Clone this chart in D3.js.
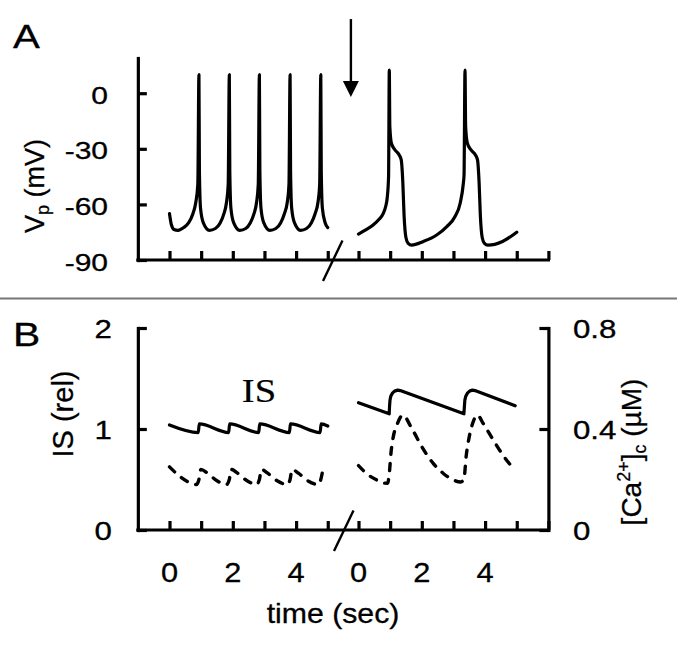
<!DOCTYPE html>
<html>
<head>
<meta charset="utf-8">
<script src="https://cdn.jsdelivr.net/npm/d3@7"></script>
<style>
  body { margin: 0; background: #fff; }
  svg { display: block; }
  text { stroke: #000; stroke-width: 0.3px; }
</style>
</head>
<body>
<svg></svg>
<script>
// ---- data (time in sec, Vp in mV, IS relative, Ca in uM) ----
// left segment (before the arrow), right segment (after)
const vLeft = [
  [0, -65], [0.06, -71], [0.14, -73.5], [0.27, -74], [0.45, -72.5], [0.6, -70], [0.74, -65], [0.83, -59], [0.895, -49], [0.93, 10],
  [0.945, -42], [0.98, -62], [1.07, -70], [1.26, -74], [1.45, -73], [1.6, -70], [1.72, -65], [1.8, -59], [1.855, -49], [1.89, 10],
  [1.905, -42], [1.94, -62], [2.03, -70], [2.22, -74], [2.41, -73], [2.55, -70], [2.67, -65], [2.75, -59], [2.805, -49], [2.84, 10],
  [2.855, -42], [2.89, -62], [2.98, -70], [3.17, -74], [3.36, -73], [3.51, -70], [3.63, -65], [3.72, -59], [3.775, -49], [3.81, 10],
  [3.825, -42], [3.86, -62], [3.95, -70], [4.14, -74], [4.33, -73], [4.48, -70], [4.6, -65], [4.69, -59], [4.745, -49], [4.78, 10],
  [4.795, -42], [4.83, -62], [4.92, -70], [5.0, -72.5]
];
const vRight = [
  [0, -76], [0.2, -74], [0.47, -71], [0.65, -68], [0.78, -65], [0.86, -61], [0.91, -56], [0.95, -45], [0.973, 12.5],
  [0.99, -18], [1.04, -27], [1.15, -30.5], [1.29, -33.5], [1.35, -36], [1.4, -48], [1.44, -66], [1.5, -78], [1.57, -81], [1.68, -82],
  [2.05, -80], [2.47, -76.5], [2.79, -72], [3.05, -66.5], [3.21, -59.5], [3.31, -49], [3.335, -44], [3.365, 12.5],
  [3.385, -18], [3.44, -27], [3.55, -30.5], [3.7, -33.5], [3.76, -36], [3.81, -48], [3.85, -66], [3.91, -78], [3.98, -81], [4.09, -82],
  [4.55, -80], [5.0, -75]
];
const isLeft = [
  [0, 1.04], [0.91, 0.965], [0.94, 1.05], [1.87, 0.965], [1.9, 1.05], [2.82, 0.965], [2.85, 1.05],
  [3.79, 0.965], [3.82, 1.05], [4.76, 0.965], [4.79, 1.05], [5.0, 1.03]
];
const isRight = [
  [0, 1.26], [0.97, 1.15], [0.98, 1.22], [0.995, 1.285], [1.02, 1.325], [1.07, 1.355], [1.14, 1.375], [1.24, 1.385], [1.32, 1.38],
  [3.33, 1.15], [3.345, 1.22], [3.36, 1.285], [3.39, 1.325], [3.44, 1.355], [3.51, 1.375], [3.6, 1.385], [3.68, 1.38],
  [4.95, 1.23]
];
const caLeft = [
  [0, 0.25], [0.3, 0.215], [0.6, 0.19], [0.85, 0.18], [0.93, 0.2], [0.99, 0.24],
  [1.2, 0.225], [1.5, 0.195], [1.8, 0.18], [1.89, 0.2], [1.95, 0.24],
  [2.15, 0.225], [2.45, 0.195], [2.75, 0.18], [2.84, 0.2], [2.9, 0.24],
  [3.1, 0.225], [3.4, 0.195], [3.72, 0.18], [3.81, 0.2], [3.87, 0.24],
  [4.07, 0.225], [4.37, 0.195], [4.69, 0.18], [4.78, 0.2], [4.86, 0.25]
];
const caRight = [
  [0, 0.255], [0.31, 0.218], [0.575, 0.198], [0.78, 0.186], [0.92, 0.185], [0.97, 0.22], [1.03, 0.31], [1.1, 0.37],
  [1.21, 0.415], [1.4, 0.455], [1.68, 0.403], [2.0, 0.33], [2.36, 0.264], [2.68, 0.224], [3.0, 0.198], [3.22, 0.19],
  [3.33, 0.2], [3.4, 0.29], [3.5, 0.37], [3.6, 0.42], [3.76, 0.455], [3.94, 0.422], [4.26, 0.356], [4.6, 0.29], [4.89, 0.244]
];

const vTicks = [0, -30, -60, -90];
const isTicks = [0, 1, 2];
const caTicks = [0, 0.4, 0.8];
const timeTicksLeft = [0, 1, 2, 3, 4, 5];
const timeTicksRight = [0, 1, 2, 3, 4, 5, 6];
const timeLabels = [0, 2, 4];
const arrowAt = { t: -0.24, from: 40, to: -2 };

// ---- layout ----
const width = 677, height = 649;
const sans = '"Liberation Sans", Arial, sans-serif';
const serif = '"Liberation Serif", "Times New Roman", serif';
const lw = 3.2;

const svg = d3.select('svg').attr('width', width).attr('height', height);
svg.append('rect').attr('width', width).attr('height', height).attr('fill', '#fff');

// scales
const xL = d3.scaleLinear().domain([0, 5]).range([169.5, 327.75]);
const xR = d3.scaleLinear().domain([0, 6]).range([358.5, 548.4]);
const yA = d3.scaleLinear().domain([-90, 19]).range([260, 58]);
const yIS = d3.scaleLinear().domain([0, 2]).range([530, 328]);
const yCa = d3.scaleLinear().domain([0, 0.8]).range([530, 328]);
const axisLeftX = xL(-1);

function label(g, txt, x, y, size, anchor, sx, family) {
  return g.append('text')
    .attr('transform', `translate(${x},${y}) scale(${sx},1)`)
    .attr('text-anchor', anchor)
    .attr('font-size', size)
    .attr('font-family', family || sans)
    .attr('fill', '#000')
    .text(txt);
}

function styleAxis(sel) {
  sel.selectAll('path, line').attr('stroke', '#000').attr('stroke-width', lw);
  sel.select('.domain').attr('stroke-linecap', 'square');
}

// time axis with a gap: one line, two sets of ticks
function timeAxis(g, y) {
  g.append('line')
    .attr('x1', axisLeftX).attr('x2', xR(6))
    .attr('y1', y).attr('y2', y)
    .attr('stroke', '#000').attr('stroke-width', lw).attr('stroke-linecap', 'square');
  [[xL, timeTicksLeft], [xR, timeTicksRight]].forEach(([s, tv]) => {
    const a = g.append('g').attr('transform', `translate(0,${y})`)
      .call(d3.axisBottom(s).tickValues(tv).tickSizeInner(-9).tickSizeOuter(0).tickFormat(''));
    a.select('.domain').remove();
    styleAxis(a);
  });
}

function breakMark(g, cx, cy) {
  g.append('line')
    .attr('x1', cx + 9.5).attr('y1', cy - 19.5)
    .attr('x2', cx - 10).attr('y2', cy + 21)
    .attr('stroke', '#000').attr('stroke-width', 2.4);
}

// ---- panel A ----
const gA = svg.append('g');
label(gA, 'A', 13, 48, 33, 'start', 1.22);

const axA = gA.append('g').attr('transform', `translate(${axisLeftX},0)`)
  .call(d3.axisLeft(yA).tickValues(vTicks).tickSizeInner(-9).tickSizeOuter(0).tickFormat(''));
styleAxis(axA);
vTicks.forEach(v => label(gA, String(v), 108, yA(v) + 10.5, 24, 'end', 1.25));
timeAxis(gA, yA(-90));
breakMark(gA, 333, yA(-90));

const vpLab = gA.append('text')
  .attr('transform', 'translate(44,186) rotate(-90)')
  .attr('text-anchor', 'middle').attr('font-family', sans).attr('font-size', 27);
vpLab.append('tspan').text('V');
vpLab.append('tspan').attr('font-size', 18).attr('dy', 5).text('p');
vpLab.append('tspan').attr('dy', -5).text(' (mV)');

const lineVL = d3.line().x(d => xL(d[0])).y(d => yA(d[1])).curve(d3.curveMonotoneX);
const lineVR = d3.line().x(d => xR(d[0])).y(d => yA(d[1])).curve(d3.curveMonotoneX);
[[vLeft, lineVL], [vRight, lineVR]].forEach(([data, ln]) => {
  gA.append('path').datum(data).attr('d', ln)
    .attr('fill', 'none').attr('stroke', '#000').attr('stroke-width', lw)
    .attr('stroke-linejoin', 'round').attr('stroke-linecap', 'round');
});

// arrow marking the switch
const ax = xR(arrowAt.t);
gA.append('line').attr('x1', ax).attr('x2', ax)
  .attr('y1', yA(arrowAt.from)).attr('y2', yA(arrowAt.to) - 12)
  .attr('stroke', '#000').attr('stroke-width', 2.4);
gA.append('path')
  .attr('d', `M${ax - 8},${yA(arrowAt.to) - 16} L${ax + 8},${yA(arrowAt.to) - 16} L${ax},${yA(arrowAt.to)} Z`)
  .attr('fill', '#000');

// separator
svg.append('line').attr('x1', 0).attr('x2', width).attr('y1', 298.5).attr('y2', 298.5)
  .attr('stroke', '#777').attr('stroke-width', 2);

// ---- panel B ----
const gB = svg.append('g');
label(gB, 'B', 13, 346, 34, 'start', 1.2);

const axBL = gB.append('g').attr('transform', `translate(${axisLeftX},0)`)
  .call(d3.axisLeft(yIS).tickValues(isTicks).tickSizeInner(-9).tickSizeOuter(0).tickFormat(''));
styleAxis(axBL);
const axBR = gB.append('g').attr('transform', `translate(${xR(6)},0)`)
  .call(d3.axisRight(yCa).tickValues(caTicks).tickSizeInner(-9).tickSizeOuter(0).tickFormat(''));
styleAxis(axBR);
timeAxis(gB, yIS(0));
breakMark(gB, 344, yIS(0));

isTicks.forEach(v => label(gB, String(v), 112, yIS(v) + 10, 25, 'end', 1.25));
caTicks.forEach(v => label(gB, String(v), 573, yCa(v) + 10, 25, 'start', 1.25));
timeLabels.forEach(v => {
  label(gB, String(v), xL(v), 582, 28, 'middle', 1.1);
  label(gB, String(v), xR(v), 582, 28, 'middle', 1.1);
});
label(gB, 'time (sec)', 333, 623, 28, 'middle', 1.08);
label(gB, 'IS', 259, 402, 33, 'middle', 1.17, serif).style('stroke-width', '0.2px');

gB.append('text')
  .attr('transform', 'translate(73,414) rotate(-90)')
  .attr('text-anchor', 'middle').attr('font-family', sans).attr('font-size', 29)
  .text('IS (rel)');

const caLab = gB.append('text')
  .attr('transform', 'translate(641,452) rotate(-90)')
  .attr('text-anchor', 'middle').attr('font-family', sans).attr('font-size', 28);
caLab.append('tspan').text('[Ca');
caLab.append('tspan').attr('font-size', 18).attr('dy', -11).text('2+');
caLab.append('tspan').attr('dy', 11).text(']');
caLab.append('tspan').attr('font-size', 18).attr('dy', 5).text('c');
caLab.append('tspan').attr('dy', -5).text(' (µM)');

const lineISL = d3.line().x(d => xL(d[0])).y(d => yIS(d[1])).curve(d3.curveMonotoneX);
const lineISR = d3.line().x(d => xR(d[0])).y(d => yIS(d[1])).curve(d3.curveLinear);
const lineCaL = d3.line().x(d => xL(d[0])).y(d => yCa(d[1])).curve(d3.curveMonotoneX);
const lineCaR = d3.line().x(d => xR(d[0])).y(d => yCa(d[1])).curve(d3.curveMonotoneX);

[[isLeft, lineISL], [isRight, lineISR]].forEach(([data, ln]) => {
  gB.append('path').datum(data).attr('d', ln)
    .attr('fill', 'none').attr('stroke', '#000').attr('stroke-width', lw)
    .attr('stroke-linejoin', 'round').attr('stroke-linecap', 'round');
});
[[caLeft, lineCaL], [caRight, lineCaR]].forEach(([data, ln]) => {
  gB.append('path').datum(data).attr('d', ln)
    .attr('fill', 'none').attr('stroke', '#000').attr('stroke-width', 3.4)
    .attr('stroke-dasharray', '7,9')
    .attr('stroke-linejoin', 'round').attr('stroke-linecap', 'round');
});
</script>
</body>
</html>
